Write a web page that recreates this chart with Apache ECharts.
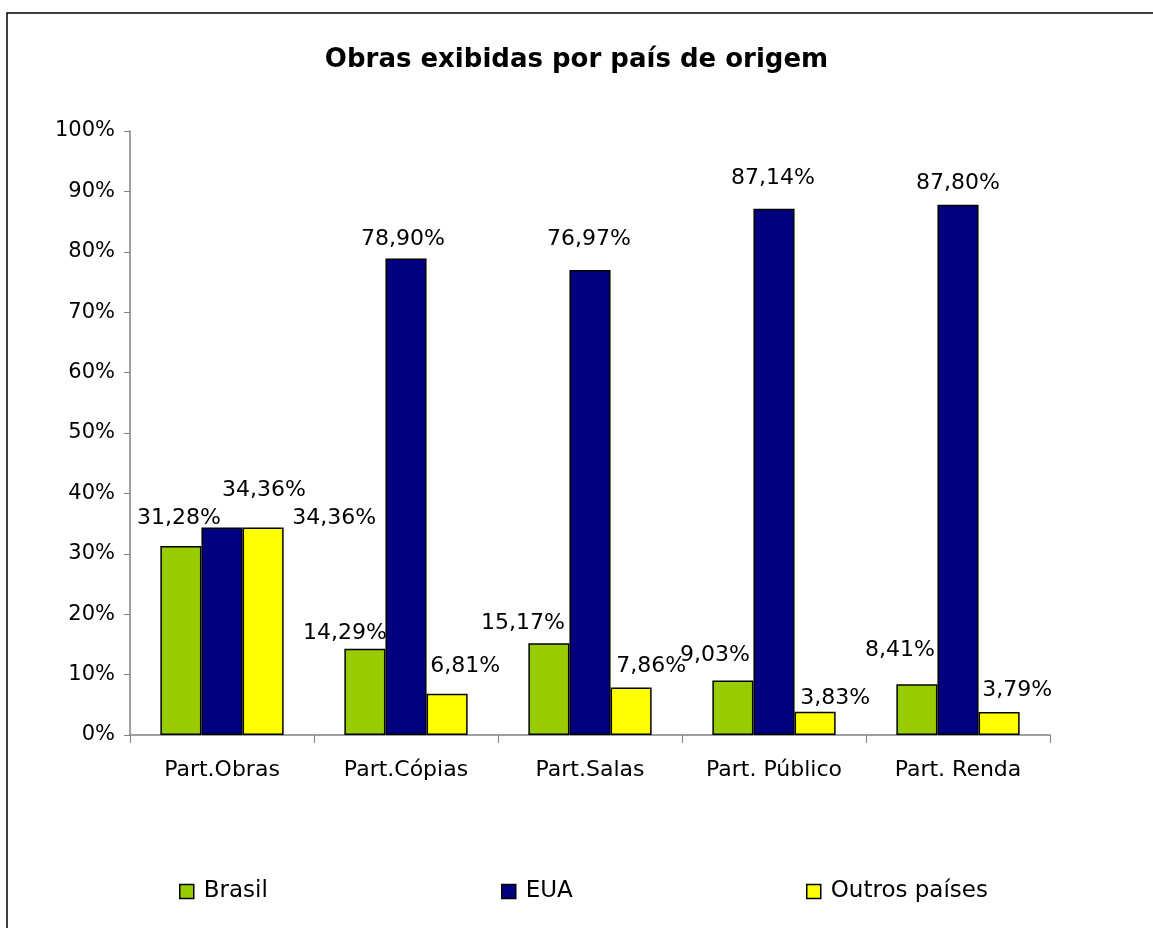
<!DOCTYPE html>
<html>
<head>
<meta charset="utf-8">
<title>Obras exibidas por país de origem</title>
<script src="https://cdn.jsdelivr.net/npm/echarts@6/dist/echarts.min.js"></script>
<style>
  html, body { margin: 0; padding: 0; background: #fff; }
  #chart { width: 1153px; height: 928px; }
</style>
</head>
<body>
<div id="chart"></div>
<script>
const categories = ["Part.Obras", "Part.Cópias", "Part.Salas", "Part. Público", "Part. Renda"];
const brasil = [31.28, 14.29, 15.17, 9.03, 8.41];
const eua = [34.36, 78.9, 76.97, 87.14, 87.8];
const outros = [34.36, 6.81, 7.86, 3.83, 3.79];
const yTicks = [0, 10, 20, 30, 40, 50, 60, 70, 80, 90, 100];

const font = "DejaVu Sans";

// excel put the labels a bit off the bars, nudge them the same way
const labelShift = {
  Brasil: [[-2, 28], [-20, 15], [-26, 20], [-18, 25], [-17, 34]],
  EUA: [[42, 37], [-3, 19], [-1, 31], [-1, 30], [0, 21]],
  "Outros países": [[71, 9], [18, 28], [20, 21], [20, 14], [18, 22]],
};

function fmt(v) {
  return v.toFixed(2).replace(".", ",") + "%";
}

function makeSeries(name, values, color) {
  return {
    name: name,
    type: "bar",
    barGap: 0,
    barCategoryGap: "33%",
    itemStyle: { color: color, borderColor: "#000", borderWidth: 1.5 },
    label: {
      show: true,
      position: "top",
      distance: 0,
      fontFamily: font,
      fontSize: 22,
      lineHeight: 22,
      color: "#000",
      formatter: (p) => fmt(p.value),
    },
    data: values.map((v, i) => ({
      value: v,
      label: { offset: [labelShift[name][i][0], -(labelShift[name][i][1] - 11)] },
    })),
  };
}

function legendAt(name, left) {
  return {
    left: left,
    top: 880,
    padding: 0,
    itemWidth: 14,
    itemHeight: 14,
    itemGap: 0,
    icon: "rect",
    itemStyle: { borderColor: "#000", borderWidth: 1.5 },
    textStyle: { fontFamily: font, fontSize: 23, color: "#000", padding: [0, 0, 0, 5] },
    data: [name],
  };
}

const chart = echarts.init(document.getElementById("chart"));

chart.setOption({
  animation: false,
  title: {
    text: "Obras exibidas por país de origem",
    left: "center",
    top: 42,
    textStyle: { fontFamily: font, fontSize: 26, fontWeight: "bold", color: "#000" },
  },
  legend: [
    legendAt("Brasil", 179),
    legendAt("EUA", 501),
    legendAt("Outros países", 806),
  ],
  grid: { left: 130, right: 103, top: 131, bottom: 193 },
  xAxis: {
    type: "category",
    data: categories,
    axisLine: { lineStyle: { color: "#808080", width: 1.5 } },
    axisTick: { show: true, interval: 0, length: 8, lineStyle: { color: "#808080" } },
    axisLabel: { interval: 0, fontFamily: font, fontSize: 22, color: "#000", margin: 24 },
  },
  yAxis: {
    type: "value",
    min: yTicks[0],
    max: yTicks[yTicks.length - 1],
    interval: yTicks[1] - yTicks[0],
    splitLine: { show: false },
    axisLine: { show: true, lineStyle: { color: "#808080", width: 1.5 } },
    axisTick: { show: true, length: 6, lineStyle: { color: "#808080" } },
    axisLabel: { fontFamily: font, fontSize: 21, color: "#000", margin: 15, formatter: "{value}%" },
  },
  graphic: [
    {
      type: "rect",
      shape: { x: 7, y: 13, width: 1300, height: 1000 },
      style: { fill: "none", stroke: "#000", lineWidth: 1.5 },
      silent: true,
    },
  ],
  series: [
    makeSeries("Brasil", brasil, "#99CC00"),
    makeSeries("EUA", eua, "#000080"),
    makeSeries("Outros países", outros, "#FFFF00"),
  ],
});
</script>
</body>
</html>
